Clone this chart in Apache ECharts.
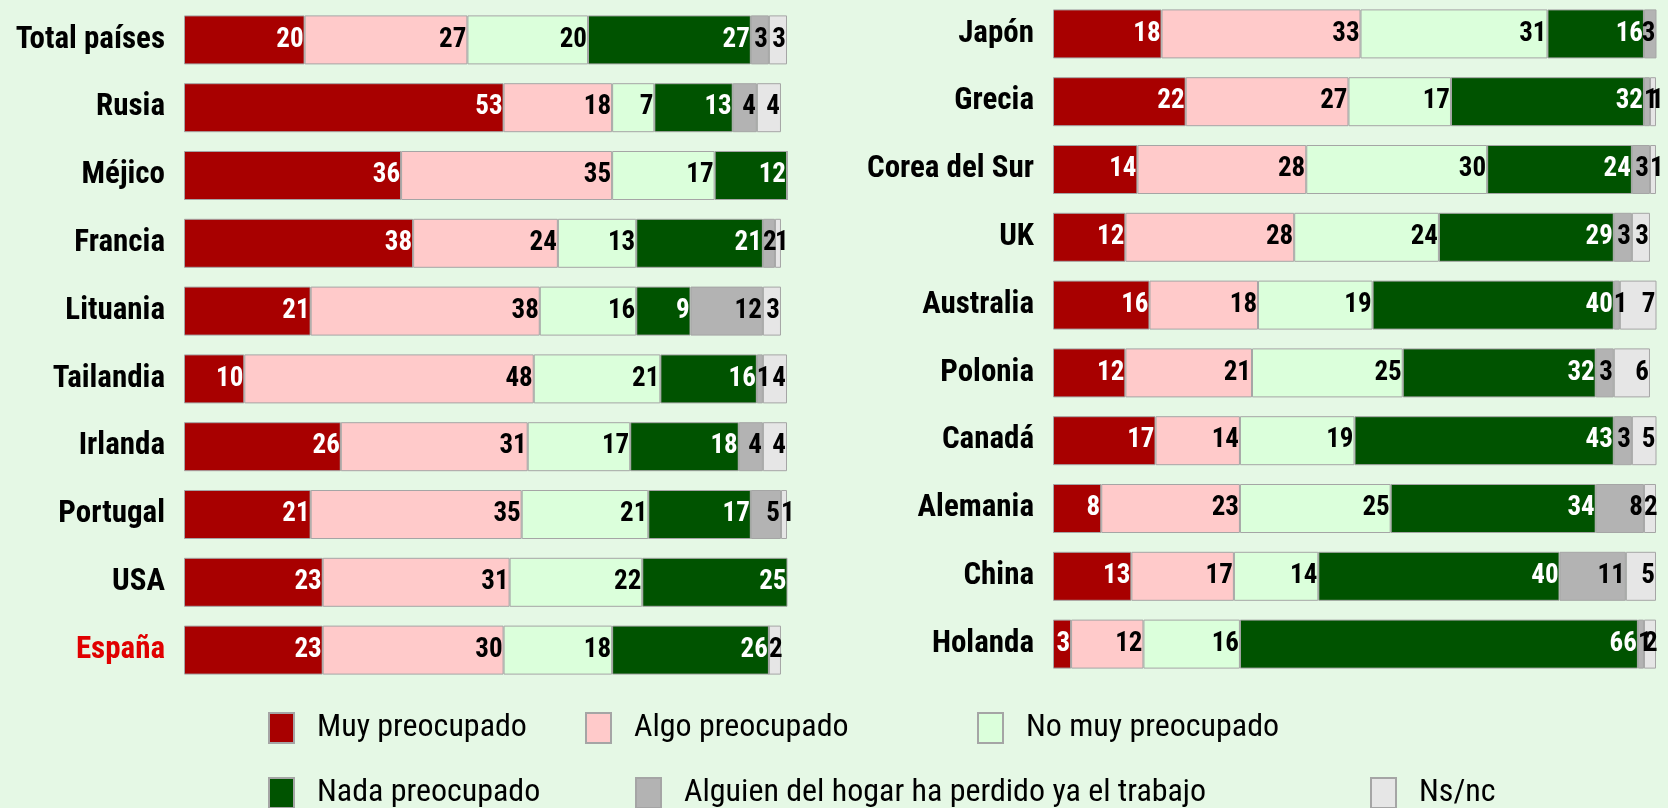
<!DOCTYPE html>
<html><head><meta charset="utf-8">
<script src="https://cdn.jsdelivr.net/npm/echarts@6/dist/echarts.min.js"></script>
<style>html,body{margin:0;padding:0;background:#E5F8E5;}#c{width:1668px;height:808px;}</style>
</head><body><div id="c"></div>
<script>
// ---- DATA ----
const seriesNames = ['Muy preocupado','Algo preocupado','No muy preocupado','Nada preocupado','Alguien del hogar ha perdido ya el trabajo','Ns/nc'];
const leftCountries = ['Total países','Rusia','Méjico','Francia','Lituania','Tailandia','Irlanda','Portugal','USA','España'];
const leftMuy     = [20,53,36,38,21,10,26,21,23,23];
const leftAlgo    = [27,18,35,24,38,48,31,35,31,30];
const leftNoMuy   = [20, 7,17,13,16,21,17,21,22,18];
const leftNada    = [27,13,12,21, 9,16,18,17,25,26];
const leftAlguien = [ 3, 4, 0, 2,12, 1, 4, 5, 0, 0];
const leftNsnc    = [ 3, 4, 0, 1, 3, 4, 4, 1, 0, 2];

const rightCountries = ['Japón','Grecia','Corea del Sur','UK','Australia','Polonia','Canadá','Alemania','China','Holanda'];
const rightMuy     = [18,22,14,12,16,12,17, 8,13, 3];
const rightAlgo    = [33,27,28,28,18,21,14,23,17,12];
const rightNoMuy   = [31,17,30,24,19,25,19,25,14,16];
const rightNada    = [16,32,24,29,40,32,43,34,40,66];
const rightAlguien = [ 3, 1, 3, 3, 1, 3, 3, 8,11, 1];
const rightNsnc    = [ 0, 1, 1, 3, 7, 6, 5, 2, 5, 2];

// ---- STYLE ----
const colors = ['#A80000','#FFCACA','#DBFFDB','#005300','#B3B3B3','#E6E6E6'];
const labelColors = ['#fff','#000','#000','#fff','#000','#000'];
const NARROW = "'Roboto Condensed','Open Sans Condensed','DejaVu Sans Condensed',sans-serif";

const chart = echarts.init(document.getElementById('c'), null, {renderer:'canvas'});
const leftData = [leftMuy,leftAlgo,leftNoMuy,leftNada,leftAlguien,leftNsnc];
const rightData = [rightMuy,rightAlgo,rightNoMuy,rightNada,rightAlguien,rightNsnc];

function mkSeries(dataArr, idx){
  return dataArr.map((d,i)=>({
    type:'bar', name:seriesNames[i], stack:'s'+idx,
    xAxisIndex:idx, yAxisIndex:idx,
    // tiny segments: label starts at segment start and overflows to the right
    data:d.map(v=> v>0 && v<=2 ? {value:v, label:{position:'insideLeft', distance:0}} : v),
    barWidth:49,
    itemStyle:{color:colors[i], borderColor:'#A5A5A5', borderWidth:1},
    label:{show:true, position:'insideRight', distance:1,
      formatter:p=>p.value>0?String(p.value):'',
      color:labelColors[i], fontFamily:NARROW, fontWeight:'bold', fontSize:27},
    emphasis:{disabled:true}, animation:false
  }));
}
const catLabel = {
  fontFamily:NARROW, fontWeight:'bold', fontSize:31, color:'#000', margin:19,
  formatter:v=> v==='España' ? '{red|'+v+'}' : v,
  rich:{red:{color:'#E00000', fontFamily:NARROW, fontWeight:'bold', fontSize:31}}
};
const legendPos = [[268,712],[585,712],[977,712],[268,777],[635,777],[1370,777]];
const legends = seriesNames.map((n,i)=>({
  data:[n], left:legendPos[i][0], top:legendPos[i][1], icon:'rect',
  itemWidth:25, itemHeight:30, selectedMode:false, padding:0,
  textStyle:{fontFamily:NARROW, fontSize:32, color:'#000', padding:[0,0,0,18]}
}));

chart.setOption({
  backgroundColor:'#E5F8E5',
  animation:false,
  legend:legends,
  grid:[
    {left:184, width:603, top:6, height:678, containLabel:false, outerBoundsMode:'none'},
    {left:1053, width:603, top:0, height:678, containLabel:false, outerBoundsMode:'none'}
  ],
  xAxis:[
    {gridIndex:0, type:'value', min:0, max:100, show:false},
    {gridIndex:1, type:'value', min:0, max:100, show:false}
  ],
  yAxis:[
    {gridIndex:0, type:'category', data:leftCountries, inverse:true,
     axisLine:{show:false}, axisTick:{show:false}, axisLabel:catLabel},
    {gridIndex:1, type:'category', data:rightCountries, inverse:true,
     axisLine:{show:false}, axisTick:{show:false}, axisLabel:catLabel}
  ],
  series:[...mkSeries(leftData,0), ...mkSeries(rightData,1)]
});
</script></body></html>
